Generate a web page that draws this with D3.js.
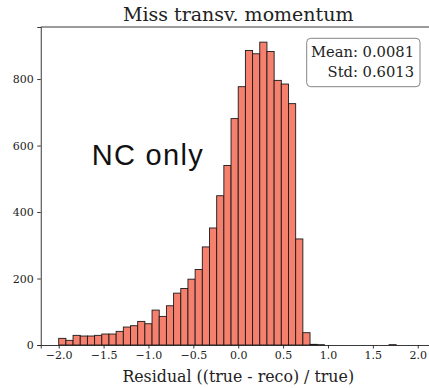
<!DOCTYPE html>
<html>
<head>
<meta charset="utf-8">
<script src="https://cdn.jsdelivr.net/npm/d3@7"></script>
<style>
  html, body { margin: 0; padding: 0; background: #fff; }
  svg { display: block; overflow: hidden; }
</style>
</head>
<body>
<div id="chart"></div>
<script>
// histogram bin edges (residual) and counts per bin
const binEdges = [-2.00, -1.92, -1.84, -1.76, -1.68, -1.60, -1.52, -1.44, -1.36, -1.28,
  -1.20, -1.12, -1.04, -0.96, -0.88, -0.80, -0.72, -0.64, -0.56, -0.48,
  -0.40, -0.32, -0.24, -0.16, -0.08, 0.00, 0.08, 0.16, 0.24, 0.32,
  0.40, 0.48, 0.56, 0.64, 0.72, 0.80, 0.88, 0.96, 1.04, 1.12,
  1.20, 1.28, 1.36, 1.44, 1.52, 1.60, 1.68, 1.76, 1.84, 1.92, 2.00];
const counts = [20, 14, 29, 27, 27, 29, 33, 33, 41, 54,
  58, 71, 64, 105, 86, 118, 156, 170, 198, 227,
  295, 352, 449, 540, 681, 777, 886, 876, 911, 883,
  796, 785, 726, 319, 37, 2, 1, 0, 0, 0,
  0, 0, 0, 0, 0, 0, 1, 0, 0, 0];
const xTicks = [-2.0, -1.5, -1.0, -0.5, 0.0, 0.5, 1.0, 1.5, 2.0];
const yTicks = [0, 200, 400, 600, 800];
const statLines = ['Mean: 0.0081', 'Std: 0.6013'];

const W = 429, H = 388;
const frame = { left: 40.75, right: 435.7, top: 27, bottom: 345 };
const serif = "'DejaVu Serif', serif";

const svg = d3.select('#chart').append('svg')
  .attr('width', W)
  .attr('height', H);

const x = d3.scaleLinear()
  .domain([-2.2, 2.2])
  .range([frame.left, frame.right]);

const y = d3.scaleLinear()
  .domain([0, d3.max(counts) * 1.05])
  .range([frame.bottom, frame.top]);

const bins = counts.map((c, i) => ({ x0: binEdges[i], x1: binEdges[i + 1], n: c }))
  .filter(d => d.n > 0);

// bars
svg.append('g')
  .selectAll('rect')
  .data(bins)
  .join('rect')
  .attr('x', d => x(d.x0))
  .attr('y', d => y(d.n))
  .attr('width', d => x(d.x1) - x(d.x0))
  .attr('height', d => y(0) - y(d.n))
  .attr('fill', '#f6806e')
  .attr('stroke', '#1a1a1a')
  .attr('stroke-width', 0.9);

// axes
const fmt = d => d3.format('.1f')(d).replace('-', '\u2212');

const xAxis = svg.append('g')
  .attr('transform', `translate(0,${frame.bottom})`)
  .call(d3.axisBottom(x).tickValues(xTicks).tickFormat(fmt).tickSizeOuter(0).tickSize(3.5).tickPadding(3));

const yAxis = svg.append('g')
  .attr('transform', `translate(${frame.left},0)`)
  .call(d3.axisLeft(y).tickValues(yTicks).tickFormat(d3.format('d')).tickSizeOuter(0).tickSize(3.5).tickPadding(3.5));

[xAxis, yAxis].forEach(g => {
  g.selectAll('.domain').attr('stroke', '#222').attr('stroke-width', 0.9);
  g.selectAll('.tick line').attr('stroke', '#222').attr('stroke-width', 0.9);
  g.selectAll('.tick text')
    .attr('fill', '#222')
    .style('font-family', serif)
    .style('font-size', '11px');
});

// top spine
svg.append('line')
  .attr('x1', frame.left).attr('x2', frame.right)
  .attr('y1', frame.top).attr('y2', frame.top)
  .attr('stroke', '#222').attr('stroke-width', 0.9);

// title
svg.append('text')
  .attr('x', (frame.left + frame.right) / 2)
  .attr('y', 21)
  .attr('text-anchor', 'middle')
  .style('font-family', serif)
  .style('font-size', '19px')
  .attr('fill', '#222')
  .text('Miss transv. momentum');

// x label
svg.append('text')
  .attr('x', (frame.left + frame.right) / 2)
  .attr('y', 382)
  .attr('text-anchor', 'middle')
  .style('font-family', serif)
  .style('font-size', '15.8px')
  .attr('fill', '#222')
  .text('Residual ((true - reco) / true)');

// stats box
const box = svg.append('g');
box.append('rect')
  .attr('x', 306.7).attr('y', 38.3)
  .attr('width', 113.3).attr('height', 48.4)
  .attr('rx', 4).attr('ry', 4)
  .attr('fill', '#fff')
  .attr('stroke', '#777')
  .attr('stroke-width', 0.9);

box.selectAll('text')
  .data(statLines)
  .join('text')
  .attr('x', 414)
  .attr('y', (d, i) => 57 + i * 20)
  .attr('text-anchor', 'end')
  .style('font-family', serif)
  .style('font-size', '14.7px')
  .attr('fill', '#222')
  .text(d => d);

// annotation
svg.append('text')
  .attr('x', 91.7)
  .attr('y', 165)
  .style('font-family', "'Liberation Sans', Arial, sans-serif")
  .style('font-size', '29px')
  .attr('textLength', 111)
  .attr('lengthAdjust', 'spacing')
  .attr('fill', '#111')
  .text('NC only');
</script>
</body>
</html>
